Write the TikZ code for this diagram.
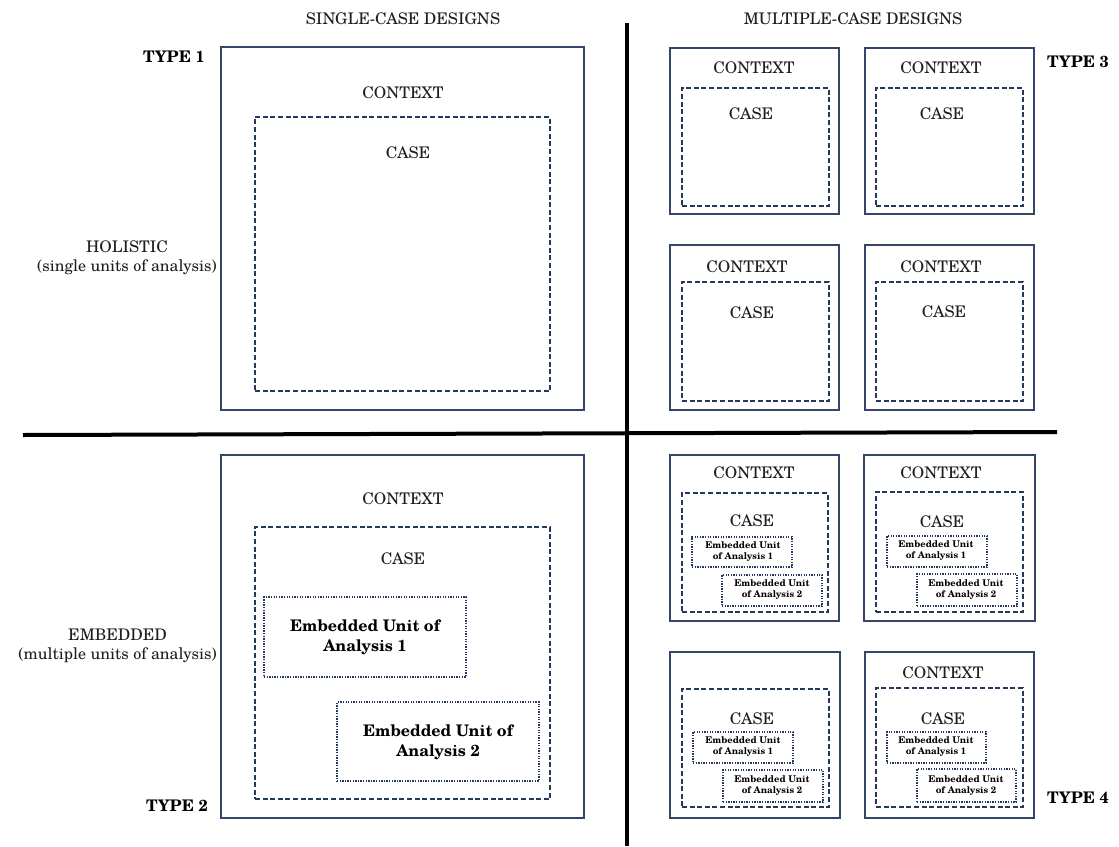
\documentclass[tikz,border=0pt]{standalone}
\usepackage{fontspec}
\setmainfont{texgyreschola}[Extension=.otf, UprightFont=*-regular, BoldFont=*-bold, ItalicFont=*-italic, BoldItalicFont=*-bolditalic]
\begin{document}
\definecolor{framec}{HTML}{34476B}
\definecolor{casec}{HTML}{24385E}
\definecolor{inkc}{HTML}{1E1E1E}
\tikzset{
  ctxbox/.style={draw=framec, line width=1.7pt, rectangle, inner sep=0pt, outer sep=0pt},
  casebox/.style={draw=casec, line width=1.4pt, dash pattern=on 5pt off 2.6pt, rectangle, inner sep=0pt, outer sep=0pt},
  unitbox/.style={draw=casec, line width=1.3pt, dash pattern=on 1.3pt off 1.3pt, rectangle, inner sep=0pt, outer sep=0pt},
  lbl/.style={text=inkc, font=\fontsize{16}{19}\selectfont, inner sep=0pt},
  typelbl/.style={text=black, font=\fontsize{16}{19}\selectfont\bfseries, inner sep=0pt},
  unitbig/.style={text=black, font=\fontsize{16}{20}\selectfont\bfseries, align=center, inner sep=0pt},
  unitsmall/.style={text=black, font=\fontsize{9.3}{11}\selectfont\bfseries, align=center, inner sep=0pt},
  divider/.style={line width=4pt, black}
}
% rectangle node from its top-left and bottom-right corners (in px units)
\newcommand\rectnode[6]{%
  \node[#2, anchor=north west, minimum width={#5pt-#3pt}, minimum height={#6pt-#4pt}] (#1) at (#3,#4) {};}
\begin{tikzpicture}[x=1pt, y=-1pt]
\useasboundingbox (0,0) rectangle (1119,846);

% column headers
\node[lbl] (hsingle) at (403,19) {SINGLE-CASE DESIGNS};
\node[lbl] (hmulti) at (853,19) {MULTIPLE-CASE DESIGNS};

% quadrant dividers
\coordinate (vtop) at (627,23);
\coordinate (vbot) at (627,846);
\coordinate (hleft) at (23,435);
\coordinate (hright) at (1057,432);
\draw[divider] (vtop) -- (vbot);
\draw[divider] (hleft) -- (hright);

% row headers
\node[lbl, align=center, anchor=east] (holistic) at (217,258) {HOLISTIC\\(single units of analysis)};
\node[lbl, align=center, anchor=east] (embedded) at (217,646) {EMBEDDED\\(multiple units of analysis)};

% type labels
\node[typelbl, anchor=east] (type1) at (205,57) {TYPE 1};
\node[typelbl, anchor=east] (type2) at (208,806) {TYPE 2};
\node[typelbl, anchor=west] (type3) at (1047,62) {TYPE 3};
\node[typelbl, anchor=west] (type4) at (1047,798) {TYPE 4};

% Type 1: single holistic case
\rectnode{aout}{ctxbox}{221}{47}{584}{410}
\rectnode{acase}{casebox}{255}{117}{550}{391}
\node[lbl] (actx) at (403,93) {CONTEXT};
\node[lbl] (acasel) at (408,153) {CASE};

% Type 2: single embedded case
\rectnode{bout}{ctxbox}{221}{455}{584}{818}
\rectnode{bcase}{casebox}{255}{527}{550}{799}
\rectnode{bu1}{unitbox}{264}{597}{466}{677}
\rectnode{bu2}{unitbox}{337}{702}{539}{781}
\node[lbl] (bctx) at (403,499) {CONTEXT};
\node[lbl] (bcasel) at (403,559) {CASE};
\node[unitbig] (bu1l) at (365,637) {Embedded Unit of\\Analysis 1};
\node[unitbig] (bu2l) at (438,742) {Embedded Unit of\\Analysis 2};

% Type 3: multiple holistic cases
\rectnode{c1out}{ctxbox}{670}{48}{839}{214}
\rectnode{c1case}{casebox}{682}{88}{829}{206}
\node[lbl] (c1ctx) at (754,68) {CONTEXT};
\node[lbl] (c1casel) at (751,114) {CASE};

\rectnode{c2out}{ctxbox}{865}{48}{1034}{214}
\rectnode{c2case}{casebox}{876}{88}{1023}{206}
\node[lbl] (c2ctx) at (941,68) {CONTEXT};
\node[lbl] (c2casel) at (942,114) {CASE};

\rectnode{c3out}{ctxbox}{670}{245}{839}{410}
\rectnode{c3case}{casebox}{682}{282}{829}{401}
\node[lbl] (c3ctx) at (747,267) {CONTEXT};
\node[lbl] (c3casel) at (752,313) {CASE};

\rectnode{c4out}{ctxbox}{865}{245}{1034}{410}
\rectnode{c4case}{casebox}{876}{282}{1023}{401}
\node[lbl] (c4ctx) at (941,267) {CONTEXT};
\node[lbl] (c4casel) at (944,312) {CASE};

% Type 4: multiple embedded cases
\rectnode{d1out}{ctxbox}{670}{455}{839}{621}
\rectnode{d1case}{casebox}{682}{493}{828}{612}
\rectnode{d1u1}{unitbox}{692}{537}{792}{567}
\rectnode{d1u2}{unitbox}{722}{575}{822}{606}
\node[lbl] (d1ctx) at (754,473) {CONTEXT};
\node[lbl] (d1casel) at (752,521) {CASE};
\node[unitsmall] (d1u1l) at (743,552) {Embedded Unit\\of Analysis 1};
\node[unitsmall] (d1u2l) at (772,590) {Embedded Unit\\of Analysis 2};

\rectnode{d2out}{ctxbox}{864}{455}{1035}{621}
\rectnode{d2case}{casebox}{876}{492}{1023}{612}
\rectnode{d2u1}{unitbox}{887}{536}{987}{567}
\rectnode{d2u2}{unitbox}{917}{574}{1017}{606}
\node[lbl] (d2ctx) at (941,473) {CONTEXT};
\node[lbl] (d2casel) at (942,522) {CASE};
\node[unitsmall] (d2u1l) at (936,551) {Embedded Unit\\of Analysis 1};
\node[unitsmall] (d2u2l) at (966,590) {Embedded Unit\\of Analysis 2};

\rectnode{d3out}{ctxbox}{670}{652}{840}{818}
\rectnode{d3case}{casebox}{682}{689}{829}{807}
\rectnode{d3u1}{unitbox}{693}{732}{793}{763}
\rectnode{d3u2}{unitbox}{723}{770}{823}{802}
\node[lbl] (d3casel) at (752,719) {CASE};
\node[unitsmall] (d3u1l) at (743,747) {Embedded Unit\\of Analysis 1};
\node[unitsmall] (d3u2l) at (772,786) {Embedded Unit\\of Analysis 2};

\rectnode{d4out}{ctxbox}{865}{652}{1034}{818}
\rectnode{d4case}{casebox}{876}{688}{1023}{807}
\rectnode{d4u1}{unitbox}{887}{732}{986}{763}
\rectnode{d4u2}{unitbox}{917}{769}{1016}{802}
\node[lbl] (d4ctx) at (943,673) {CONTEXT};
\node[lbl] (d4casel) at (943,719) {CASE};
\node[unitsmall] (d4u1l) at (936,747) {Embedded Unit\\of Analysis 1};
\node[unitsmall] (d4u2l) at (966,786) {Embedded Unit\\of Analysis 2};
\end{tikzpicture}
\end{document}
